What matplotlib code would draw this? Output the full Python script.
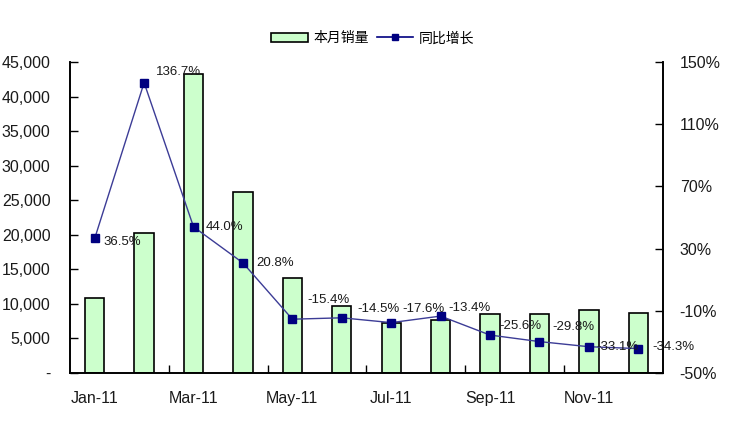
import matplotlib
matplotlib.use("Agg")
import matplotlib.pyplot as plt
import numpy as np
from matplotlib.ticker import FuncFormatter, FixedLocator
from matplotlib.lines import Line2D
from matplotlib.patches import Patch

plt.rcParams['font.family'] = ['Liberation Sans', 'Noto Sans CJK SC', 'DejaVu Sans']

months = ["Jan-11", "Feb-11", "Mar-11", "Apr-11", "May-11", "Jun-11",
          "Jul-11", "Aug-11", "Sep-11", "Oct-11", "Nov-11", "Dec-11"]
sales = [10900, 20300, 43300, 26200, 13800, 9700, 7200, 7700, 8500, 8500, 9100, 8700]
growth = [36.5, 136.7, 44.0, 20.8, -15.4, -14.5, -17.6, -13.4, -25.6, -29.8, -33.1, -34.3]
sales_label = "本月销量"
growth_label = "同比增长"

# where each data label sits relative to its marker (pixels: right, up)
label_dx = [9, 12, 12, 13, 15, 16, 11, 8, 9, 13, 8, 14]
label_dy = [-4, 11, 0, 0, 19, 9, 14, 8, 9, 15, 0, 2]

bar_color = "#ccffcc"
line_color = "#3c3c96"
marker_color = "#000080"
text_color = "#1a1a1a"

fig = plt.figure(figsize=(7.5, 4.26), dpi=100)
ax = fig.add_axes([0.0933, 0.1244, 0.7907, 0.7301])
rax = ax.twinx()

x = np.arange(len(months))
ax.bar(x, sales, width=0.39, color=bar_color, edgecolor="black", linewidth=1.2, zorder=2)
ax.set_xlim(-0.5, len(months) - 0.5)
ax.set_ylim(0, 45000)
ax.set_yticks(np.arange(0, 45001, 5000))
ax.yaxis.set_major_formatter(FuncFormatter(lambda v, p: "-" if v == 0 else "{:,.0f}".format(v)))

# category boundaries every two months, labels on odd months
ax.xaxis.set_major_locator(FixedLocator([1.5, 3.5, 5.5, 7.5, 9.5]))
ax.xaxis.set_major_formatter(FuncFormatter(lambda v, p: ""))
ax.xaxis.set_minor_locator(FixedLocator(x[::2]))
ax.set_xticklabels(months[::2], minor=True)
ax.tick_params(axis="x", which="major", direction="in", length=6, width=1)
ax.tick_params(axis="x", which="minor", length=0, pad=13, labelsize=11.5, labelcolor=text_color)
ax.tick_params(axis="y", direction="in", length=6, width=1, pad=14, labelsize=11.5, labelcolor=text_color)

rax.plot(x, growth, color=line_color, linewidth=1, marker="s", markersize=6,
         markerfacecolor=marker_color, markeredgecolor=marker_color, zorder=3)
rax.set_ylim(-50, 150)
rax.set_yticks(np.arange(-50, 151, 40))
rax.yaxis.set_major_formatter(FuncFormatter(lambda v, p: "{:.0f}%".format(v)))
rax.tick_params(axis="y", direction="in", length=6, width=1, pad=12, labelsize=11.5, labelcolor=text_color)

for i, g in enumerate(growth):
    rax.annotate("{:.1f}%".format(g), (x[i], g), xytext=(label_dx[i], label_dy[i]),
                 textcoords="offset pixels", ha="left", va="center", fontsize=9.5, color=text_color)

for a in (ax, rax):
    a.spines["top"].set_visible(False)
    for s in ("left", "right", "bottom"):
        a.spines[s].set_linewidth(1.2)

handles = [Patch(facecolor=bar_color, edgecolor="black", linewidth=1.2),
           Line2D([0], [0], color=marker_color, linewidth=1.2, marker="s", markersize=5)]
fig.legend(handles, [sales_label, growth_label], loc="center", bbox_to_anchor=(0.497, 0.91),
           ncol=2, frameon=False, handlelength=2.6, handletextpad=0.4,
           columnspacing=0.6, prop={"family": ["Noto Sans CJK SC", "DejaVu Sans"], "size": 10})

fig.savefig("out.png", dpi=100)
